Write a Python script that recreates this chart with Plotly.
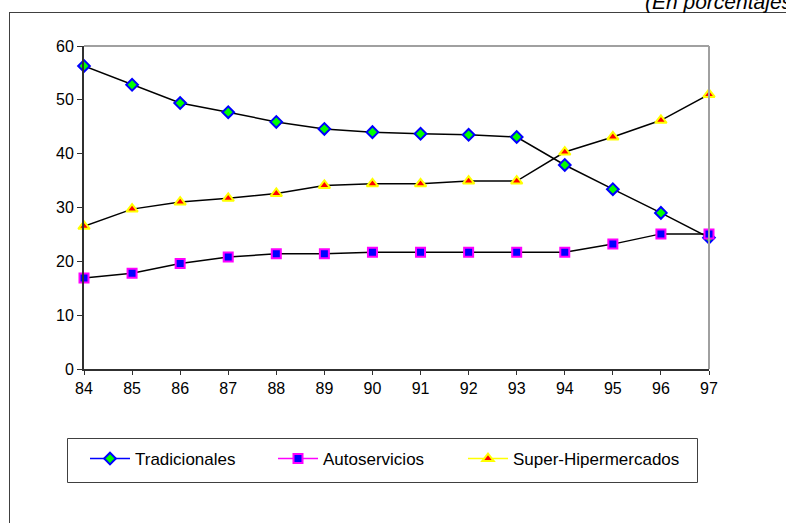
import plotly.graph_objects as go

years = [84, 85, 86, 87, 88, 89, 90, 91, 92, 93, 94, 95, 96, 97]
tradicionales = [56.3, 52.8, 49.4, 47.7, 45.9, 44.6, 44.0, 43.7, 43.5, 43.1, 37.9, 33.4, 29.0, 24.4]
autoservicios = [16.9, 17.8, 19.6, 20.8, 21.4, 21.4, 21.7, 21.7, 21.7, 21.7, 21.7, 23.2, 25.1, 25.1]
super_hiper = [26.5, 29.7, 31.0, 31.7, 32.6, 34.1, 34.4, 34.4, 34.9, 34.9, 40.3, 43.1, 46.2, 51.0]
y_ticks = [0, 10, 20, 30, 40, 50, 60]
title_text = "(En porcentajes)"

series = [
    ("Tradicionales", tradicionales, "diamond", "#00FF00", "#0000FF", "#0000FF", 9, "legend"),
    ("Autoservicios", autoservicios, "square", "#0000FF", "#FF00FF", "#FF00FF", 9, "legend2"),
    ("Super-Hipermercados", super_hiper, "triangle-up", "#FF0000", "#FFFF00", "#FFFF00", 10, "legend3"),
]

fig = go.Figure()
for name, vals, sym, fill, edge, legline, size, leg in series:
    fig.add_trace(go.Scatter(
        x=years, y=vals, mode="lines+markers", name=name, showlegend=False,
        line=dict(color="black", width=1.5),
        marker=dict(symbol=sym, color=fill, size=size, line=dict(color=edge, width=2)),
        cliponaxis=False,
    ))
for name, vals, sym, fill, edge, legline, size, leg in series:
    fig.add_trace(go.Scatter(
        x=[None], y=[None], mode="lines+markers", name=name, showlegend=True, legend=leg,
        line=dict(color=legline, width=1.5),
        marker=dict(symbol=sym, color=fill, size=size, line=dict(color=edge, width=2)),
    ))

W, H = 786, 523
L, R, T, B = 84, 77, 46, 154
pw, ph = W - L - R, H - T - B

def px(x):
    return (x - L) / pw

def py(y):
    return (H - B - y) / ph

def leg(xpix):
    return dict(orientation="h", x=px(xpix), y=py(441), xanchor="left", yanchor="top",
                borderwidth=0, bgcolor="rgba(0,0,0,0)", font=dict(size=17),
                itemwidth=40, itemclick=False, itemdoubleclick=False)

fig.update_layout(
    width=W, height=H,
    margin=dict(l=L, r=R, t=T, b=B, pad=0),
    paper_bgcolor="white", plot_bgcolor="white",
    font=dict(family="Liberation Sans, Arial, sans-serif", size=16, color="black"),
    xaxis=dict(range=[84, 97], tickmode="array", tickvals=years, ticktext=[str(y) for y in years],
               showgrid=False, zeroline=False, showline=True, linecolor="#303030", linewidth=2,
               ticks="outside", ticklen=4, tickcolor="#303030", tickfont=dict(size=16)),
    yaxis=dict(range=[0, 60], tickmode="array", tickvals=y_ticks, showgrid=False, zeroline=False,
               showline=True, linecolor="#303030", linewidth=2,
               ticks="outside", ticklen=5, tickcolor="#303030", tickfont=dict(size=16)),
    legend=leg(85),
    legend2=leg(273),
    legend3=leg(463),
    showlegend=True,
    shapes=[
        dict(type="rect", xref="paper", yref="paper", x0=px(67.5), x1=px(697.5), y0=py(438.5), y1=py(482.5),
             line=dict(color="#404040", width=1), fillcolor="white", layer="below"),
        dict(type="line", xref="paper", yref="paper", x0=0, x1=1, y0=1, y1=1,
             line=dict(color="#A0A0A0", width=2)),
        dict(type="line", xref="paper", yref="paper", x0=1, x1=1, y0=0, y1=1,
             line=dict(color="#A0A0A0", width=2)),
        dict(type="line", xref="paper", yref="paper", x0=px(9), x1=px(800), y0=py(12.5), y1=py(12.5),
             line=dict(color="#404040", width=1)),
        dict(type="line", xref="paper", yref="paper", x0=px(9.5), x1=px(9.5), y0=py(12.5), y1=py(540),
             line=dict(color="#404040", width=1)),
    ],
    annotations=[
        dict(text="<i>" + title_text + "</i>", xref="paper", yref="paper", x=px(644), y=py(12),
             xanchor="left", yanchor="bottom", showarrow=False, font=dict(size=21), borderpad=0,
             yshift=-2),
    ],
)

fig.write_html("out.html")
